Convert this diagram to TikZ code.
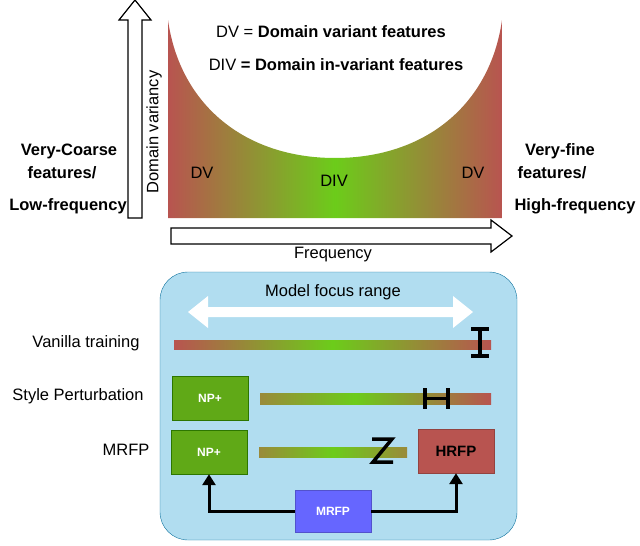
\documentclass[tikz,border=0pt]{standalone}
\usepackage{fontspec}
\setmainfont{Liberation Sans}
\usetikzlibrary{arrows.meta,shapes.arrows}
\definecolor{dvred}{HTML}{B85450}
\definecolor{divgreen}{HTML}{6CCC1A}
\definecolor{olive}{HTML}{9A8A3A}
\definecolor{npgreen}{HTML}{60A917}
\definecolor{npborder}{HTML}{2D7600}
\definecolor{panel}{HTML}{B1DDF0}
\definecolor{panelborder}{HTML}{10739E}
\definecolor{mrfpblue}{HTML}{6666FF}
\begin{document}
\begin{tikzpicture}[x=1pt,y=-1pt,
  txt/.style={font=\fontsize{16.5}{19}\selectfont},
  btxt/.style={font=\fontsize{16.5}{19}\selectfont\bfseries},
  box/.style={draw, minimum width=76pt, minimum height=44pt, font=\fontsize{12}{14}\selectfont\bfseries},
  link/.style={-{Triangle[length=11pt,width=13pt]}, line width=3pt},
  beam/.style={line width=3.5pt}
]
\useasboundingbox (0,0) rectangle (640,546);
% U-shaped spectrum
\shade[left color=dvred, right color=dvred, middle color=divgreen]
  (168,20) .. controls (180,105) and (245,158) .. (335,158)
  .. controls (425,158) and (490,105) .. (502,20) -- (502,218) -- (168,218) -- cycle;
\node[txt] (dvdef) at (331,32) {DV = \textbf{Domain variant features}};
\node[txt] (divdef) at (336,65) {DIV \textbf{= Domain in-variant features}};
\node[txt] (dvl) at (202,173) {DV};
\node[txt] (div) at (334,181) {DIV};
\node[txt] (dvr) at (473,173) {DV};
% axes
\draw[line width=1.2pt, fill=white] (128,218) -- (128,20) -- (119,20) -- (135,0) -- (151,20) -- (142,20) -- (142,218) -- cycle;
\draw[line width=1.2pt, fill=white] (171,228) -- (491,228) -- (491,220) -- (512,236) -- (491,252) -- (491,244) -- (171,244) -- cycle;
\node[txt, rotate=90] (dvar) at (154,132) {Domain variancy};
\node[txt] (freq) at (333,255) {Frequency};
\node[btxt] (c1) at (69,151) {Very-Coarse};
\node[btxt] (c2) at (62,173) {features/};
\node[btxt] (c3) at (68,206) {Low-frequency};
\node[btxt] (f1) at (560,151) {Very-fine};
\node[btxt] (f2) at (552,173) {features/};
\node[btxt] (f3) at (575,206) {High-frequency};
% panel
\draw[panelborder, fill=panel, rounded corners=28pt] (160,272) rectangle (517,540);
\node[txt] (focus) at (333,292) {Model focus range};
\fill[white] (188,312) -- (208,296) -- (208,307) -- (453,307) -- (453,296) -- (473,312)
  -- (453,328) -- (453,317) -- (208,317) -- (208,328) -- cycle;
% rows
\node[txt] (van) at (86,343) {Vanilla training};
\node[txt] (sty) at (78,396) {Style Perturbation};
\node[txt] (mr) at (126,450) {MRFP};
\shade[left color=dvred, right color=dvred, middle color=divgreen] (174,340) rectangle (491,349);
\draw[beam] (471,329) -- (489,329) (480,329) -- (480,356) (471,356) -- (489,356);
\shade[left color=olive, right color=divgreen] (260,393) rectangle (355,404);
\shade[left color=divgreen, right color=dvred] (355,393) rectangle (491,404);
\draw[beam] (425,388) -- (425,409) (448,388) -- (448,409) (425,398.5) -- (448,398.5);
\shade[left color=olive, right color=divgreen] (259,447) rectangle (333,457);
\shade[left color=divgreen, right color=olive] (333,447) rectangle (407,457);
\draw[beam, line join=miter] (372,439) -- (392,439) -- (373,462) -- (393,462);
\node[box, fill=npgreen, draw=npborder, text=white] (np1) at (210,398) {NP+};
\node[box, fill=npgreen, draw=npborder, text=white] (np2) at (209,452) {NP+};
\node[box, fill=dvred, draw=dvred!80!black, font=\fontsize{15}{18}\selectfont\bfseries] (hrfp) at (456,451) {HRFP};
\node[box, fill=mrfpblue, draw=mrfpblue!80!black, text=white, minimum height=42pt] (mrfp) at (333,511) {MRFP};
\draw[link] (mrfp.west) -| (np2.south);
\draw[link] (mrfp.east) -| (hrfp.south);
\end{tikzpicture}
\end{document}
